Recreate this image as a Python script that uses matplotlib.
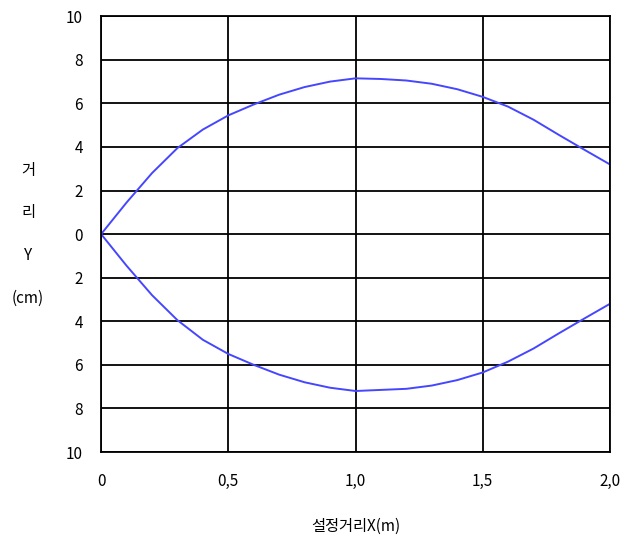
import numpy as np
import matplotlib.pyplot as plt

plt.rcParams['font.family'] = ['Noto Sans CJK KR', 'DejaVu Sans']

# values
x = [0.0, 0.1, 0.2, 0.3, 0.4, 0.5, 0.6, 0.7, 0.8, 0.9, 1.0,
     1.1, 1.2, 1.3, 1.4, 1.5, 1.6, 1.7, 1.8, 1.9, 2.0]
upper = [0.0, 1.45, 2.8, 3.95, 4.8, 5.45, 5.95, 6.4, 6.75, 7.0, 7.15,
         7.12, 7.05, 6.9, 6.65, 6.3, 5.85, 5.25, 4.55, 3.87, 3.2]
lower = [0.0, -1.45, -2.8, -3.95, -4.85, -5.5, -6.0, -6.45, -6.8, -7.05, -7.2,
         -7.15, -7.1, -6.95, -6.7, -6.35, -5.85, -5.25, -4.55, -3.87, -3.2]

xticks = [0, 0.5, 1.0, 1.5, 2.0]
xticklabels = ['0', '0,5', '1,0', '1,5', '2,0']
yticks = [10, 8, 6, 4, 2, 0, -2, -4, -6, -8, -10]
yticklabels = ['10', '8', '6', '4', '2', '0', '2', '4', '6', '8', '10']

fig = plt.figure(figsize=(6.32, 5.41), dpi=100)
ax = fig.add_axes([0.160, 0.1645, 0.805, 0.8055])

ax.plot(x, upper, color='#4646ff', lw=1.4)
ax.plot(x, lower, color='#4646ff', lw=1.4)

ax.set_xlim(0, 2.0)
ax.set_ylim(-10, 10)
ax.set_xticks(xticks)
ax.set_xticklabels(xticklabels)
ax.set_yticks(yticks)
ax.set_yticklabels(yticklabels)
ax.tick_params(length=0, labelsize=11)
ax.tick_params(axis='x', pad=15)
ax.tick_params(axis='y', pad=13)
ax.grid(True, color='black', lw=1.3)
for s in ax.spines.values():
    s.set_color('black')
    s.set_linewidth(1.3)

ax.set_xlabel('설정거리X(m)', fontsize=11, labelpad=20)

for txt, yy in [('거', 170), ('리', 212), ('Y', 255), ('(cm)', 298)]:
    fig.text(28 / 632, 1 - yy / 541, txt, ha='center', va='center', fontsize=11)

fig.savefig('out.png', dpi=100)
